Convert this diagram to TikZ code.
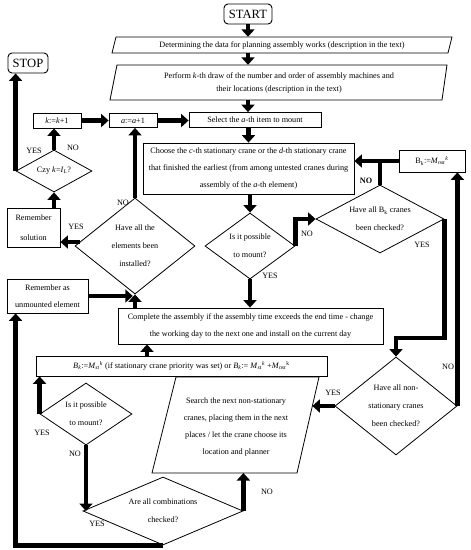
\documentclass[tikz,border=0pt]{standalone}
\usepackage{fontspec}
\usepackage{amsmath}
\setmainfont{Liberation Serif}
\usetikzlibrary{shapes.geometric,arrows.meta,calc}
\newcommand{\ita}[1]{\textit{#1}}
\begin{document}
\begin{tikzpicture}[x=1pt,y=-1pt,
  base/.style={font=\fontsize{8.2}{17}\selectfont, align=center, inner sep=0pt},
  box/.style={base, draw, line width=0.8pt, rectangle},
  term/.style={draw, line width=0.9pt, rounded corners=4pt, font=\fontsize{12.6}{14}\selectfont, inner sep=0pt},
  dia/.style={base, draw, line width=0.8pt, diamond, font=\fontsize{8.2}{18}\selectfont},
  shp/.style={draw, line width=0.8pt, line join=miter},
  flow/.style={line width=4.5pt, line join=miter, -{Triangle[width=13pt,length=7.5pt]}},
  link/.style={line width=4.5pt, line join=miter},
  lbl/.style={font=\fontsize{8.2}{10}\selectfont, inner sep=0pt},
]
\useasboundingbox (0,0) rectangle (471,550);

% terminals
\node[term, minimum width=48pt, minimum height=20pt] (start) at (248,14) {START};
\node[term, minimum width=40pt, minimum height=20pt] (stop) at (28,63) {STOP};

% parallelogram 1
\coordinate (aBL) at (112,53); \coordinate (aTL) at (116,37);
\coordinate (aTR) at (452,37); \coordinate (aBR) at (448,53);
\draw[shp] (aBL) -- (aTL) -- (aTR) -- (aBR) -- cycle;
\node[base, minimum width=330pt, minimum height=16pt] (p1) at (282,45)
  {Determining the data for planning assembly works (description in the text)};

% parallelogram 2
\coordinate (bBL) at (110,100); \coordinate (bTL) at (117,65);
\coordinate (bTR) at (447,65); \coordinate (bBR) at (442,100);
\draw[shp] (bBL) -- (bTL) -- (bTR) -- (bBR) -- cycle;
\node[base, font=\fontsize{8.2}{13}\selectfont, minimum width=320pt, minimum height=35pt] (p2) at (279,82.5)
  {Perform \ita{k}-th draw of the number and order of assembly machines and\\their locations (description in the text)};

% boxes row
\node[box, minimum width=132pt, minimum height=15pt] (sel) at (255,120) {Select the \ita{a}-th item to mount};
\node[box, minimum width=48pt, minimum height=14pt] (a1) at (133,120.5) {\ita{a}:=\ita{a}+1};
\node[box, minimum width=48pt, minimum height=15pt] (k1) at (57,120.5) {\ita{k}:=\ita{k}+1};

\node[box, minimum width=211pt, minimum height=51pt] (cho) at (248.5,168.5)
  {Choose the \ita{c}-th stationary crane or the \ita{d}-th stationary crane\\that finished the earliest (from among untested cranes during\\assembly of the \ita{a}-th element)};

\node[box, minimum width=66pt, minimum height=22pt] (bkb) at (432,161)
  {B\textsubscript{\ita{k}}:=\ita{M}\textsubscript{\ita{nst}}\textsuperscript{\ita{k}}};

% diamonds
\node[dia, minimum width=76pt, minimum height=42pt, aspect=1.8] (czy) at (54,171)
  {Czy \ita{k}=\ita{I}\textsubscript{\ita{L}}?};
\node[dia, minimum width=120pt, minimum height=96pt, aspect=1.25] (elem) at (135,246)
  {Have all the\\elements been\\installed?};
\node[dia, minimum width=90pt, minimum height=66pt, aspect=1.36] (pos1) at (250,246)
  {Is it possible\\to mount?};
\node[dia, minimum width=128pt, minimum height=68pt, aspect=1.9] (bkd) at (380,219)
  {Have all B\textsubscript{k} cranes\\been checked?};
\node[dia, minimum width=122pt, minimum height=98pt, aspect=1.25] (nsd) at (396,406)
  {Have all non-\\stationary cranes\\been checked?};
\node[dia, minimum width=92pt, minimum height=62pt, aspect=1.48] (pos2) at (86,414)
  {Is it possible\\to mount?};
\node[dia, minimum width=160pt, minimum height=68pt, aspect=2.35] (comb) at (163,511)
  {Are all combinations\\checked?};

% left boxes
\node[box, minimum width=53pt, minimum height=39pt, font=\fontsize{8.2}{20}\selectfont] (rsol) at (33.5,227.5)
  {Remember\\solution};
\node[box, minimum width=81pt, minimum height=34pt] (runm) at (47.5,296)
  {Remember as\\unmounted element};

% complete and Bk boxes
\node[box, minimum width=265pt, minimum height=36pt] (cmp) at (250.5,326)
  {Complete the assembly if the assembly time exceeds the end time - change\\the working day to the next one and install on the current day};
\node[box, minimum width=291pt, minimum height=20pt] (bst) at (181.5,366)
  {\ita{B}\textsubscript{\ita{k}}:=\ita{M}\textsubscript{\ita{st}}\textsuperscript{\ita{k}} (if stationary crane priority was set) or \ita{B}\textsubscript{\ita{k}}:= \ita{M}\textsubscript{\ita{st}}\textsuperscript{\ita{k}} +\ita{M}\textsubscript{\ita{nst}}\textsuperscript{k}};

% search parallelogram
\coordinate (sBL) at (152,473); \coordinate (sTL) at (176,377);
\coordinate (sTR) at (319,377); \coordinate (sBR) at (297,473);
\draw[shp] (sBL) -- (sTL) -- (sTR) -- (sBR) -- cycle;
\node[base] (srch) at (236,427)
  {Search the next non-stationary\\cranes, placing them in the next\\places / let the crane choose its\\location and planner};
\coordinate (sIn) at ($(sTR)!0.302!(sBR)$);

% connectors
\draw[flow] (start.south) -- (start.south |- p1.north);
\draw[flow] (start.south |- p1.south) -- (start.south |- p2.north);
\draw[flow] (start.south |- p2.south) -- (start.south |- sel.north);
\draw[flow] (k1.east) -- (a1.west);
\draw[flow] (a1.east) -- (a1.east -| sel.west);
\draw[flow] (cho.north |- sel.south) -- (cho.north);
\draw[flow] (pos1.north |- cho.south) -- (pos1.north);
\draw[flow] (pos1.east) |- (bkd.west);
\draw[link] (bkd.north) -- (bkd.north |- bkb.west);
\draw[flow] (bkb.west) -- (bkb.west -| cho.east);
\draw[flow] (bkd.east) -- ++(0,119) -| (nsd.north);
\draw[flow] (nsd.east) -- (nsd.east |- bkb.south);
\draw[flow] (nsd.west) -- (nsd.west -| sIn);
\draw[flow] (pos1.south) -- (pos1.south |- cmp.north);
\draw[flow] (elem.south |- cmp.north) -- (elem.south);
\draw[flow] (elem.north) -- (elem.north |- a1.south);
\coordinate (ey) at ($(elem.west)+(5,-4)$);
\draw[flow] (ey) -- (ey -| rsol.east);
\draw[flow] (rsol.north -| czy.south) -- (czy.south);
\draw[flow] (czy.north) -- (czy.north |- k1.south);
\draw[flow] (czy.west) -- (czy.west |- stop.south);
\draw[flow, shorten >=2.2pt] (runm.east) -- (runm.east -| elem.south);
\coordinate (bx) at (147,0);
\draw[flow] (bst.north -| bx) -- (cmp.south -| bx);
\draw[flow] (pos2.west) -- (pos2.west |- bst.south);
\draw[flow] (pos2.south) -- (pos2.south |- comb.west);
\draw[flow] (comb.east) -- (comb.east |- sBR);
\draw[flow] (comb.south) -| (runm.south -| czy.west);

% labels
\node[lbl] (l1) at (34,151) {YES};
\node[lbl] (l2) at (73,148) {NO};
\node[lbl] (l3) at (76,227) {YES};
\node[lbl] (l4) at (123,203) {NO};
\node[lbl, font=\fontsize{8.2}{10}\selectfont\bfseries] (l5) at (366,181) {NO};
\node[lbl] (l6) at (307,234) {NO};
\node[lbl] (l7) at (422,245) {YES};
\node[lbl] (l8) at (270,276) {YES};
\node[lbl] (l9) at (448,367) {NO};
\node[lbl] (l10) at (333,393) {YES};
\node[lbl] (l11) at (42,433) {YES};
\node[lbl] (l12) at (75,454) {NO};
\node[lbl] (l13) at (267,492) {NO};
\node[lbl] (l14) at (97,524) {YES};
\end{tikzpicture}
\end{document}
